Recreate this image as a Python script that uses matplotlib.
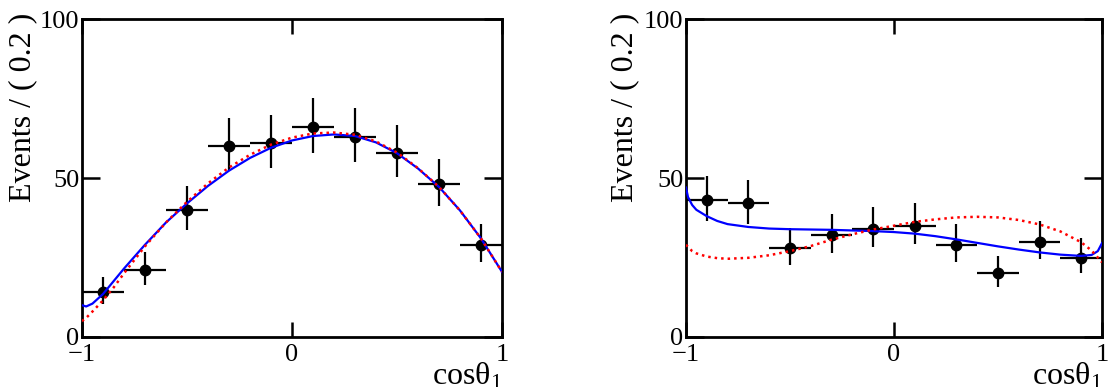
import numpy as np
import matplotlib as mpl

mpl.use("Agg")
import matplotlib.pyplot as plt

###############################################################################

# bin centres (bin width 0.2)
bin_x = [-0.9, -0.7, -0.5, -0.3, -0.1, 0.1, 0.3, 0.5, 0.7, 0.9]
bin_halfwidth = 0.1

# left panel data (events per bin, asymmetric errors)
left_counts = [14, 21, 40, 60, 61, 66, 63, 58, 48, 29]
left_err_lo = [3.7, 4.5, 6.3, 7.7, 7.8, 8.1, 7.9, 7.6, 6.9, 5.4]
left_err_hi = [4.8, 5.6, 7.4, 8.8, 8.9, 9.2, 9.0, 8.7, 8.0, 6.4]

# right panel data
right_counts = [43, 42, 28, 32, 34, 35, 29, 20, 30, 25]
right_err_lo = [6.5, 6.5, 5.3, 5.6, 5.8, 5.9, 5.4, 4.4, 5.5, 5.0]
right_err_hi = [7.6, 7.5, 6.3, 6.7, 6.9, 7.0, 6.4, 5.5, 6.5, 6.0]

# fit curves
left_curve_x = [-1.0, -0.98, -0.95, -0.9, -0.85, -0.8, -0.7, -0.6, -0.5, -0.4,
                -0.3, -0.2, -0.1, 0.0, 0.1, 0.2, 0.3, 0.4, 0.5, 0.6, 0.7, 0.8,
                0.9, 1.0]
left_blue = [10.0, 9.6, 10.5, 13.5, 17.5, 21.5, 29.0, 36.0, 42.0, 47.5, 52.3,
             56.3, 59.5, 61.8, 63.2, 63.7, 63.2, 61.2, 57.8, 53.0, 47.2, 39.8,
             31.0, 20.5]
left_red = [5.0, 6.0, 8.0, 11.5, 15.5, 20.0, 28.5, 36.0, 42.5, 48.3, 53.3,
            57.3, 60.5, 62.7, 64.0, 64.3, 63.6, 61.5, 58.0, 53.1, 47.2, 39.8,
            31.0, 20.5]

right_blue_x = [-1.0, -0.99, -0.97, -0.95, -0.9, -0.85, -0.8, -0.7, -0.6, -0.5,
                -0.4, -0.3, -0.2, -0.1, 0.0, 0.1, 0.2, 0.3, 0.4, 0.5, 0.6, 0.7,
                0.8, 0.9, 0.95, 0.98, 1.0]
right_blue = [47.0, 44.0, 41.5, 40.0, 38.0, 36.5, 35.5, 34.6, 34.1, 33.9, 33.8,
              33.7, 33.5, 33.3, 33.0, 32.5, 31.7, 30.7, 29.6, 28.5, 27.5, 26.6,
              25.9, 25.5, 25.8, 27.0, 29.5]
right_red_x = [-1.0, -0.97, -0.95, -0.9, -0.85, -0.8, -0.7, -0.6, -0.5, -0.4,
               -0.3, -0.2, -0.1, 0.0, 0.1, 0.2, 0.3, 0.4, 0.5, 0.6, 0.7, 0.8,
               0.9, 0.95, 1.0]
right_red = [29.0, 27.0, 26.3, 25.3, 24.8, 24.6, 24.9, 25.7, 27.0, 28.6, 30.6,
             32.3, 33.8, 35.0, 36.2, 37.0, 37.6, 37.8, 37.6, 36.8, 35.4, 33.2,
             29.8, 27.2, 23.5]

###############################################################################

serif = "Liberation Serif"
plt.rcParams.update({
    "font.family": "serif",
    "font.serif": [serif, "DejaVu Serif"],
    "mathtext.fontset": "custom",
    "mathtext.rm": serif,
    "mathtext.it": serif + ":italic",
})

fig = plt.figure(figsize=(11.15, 3.87), dpi=100)

panels = [
    ([0.0735, 0.1292, 0.3767, 0.8217], left_counts, left_err_lo, left_err_hi,
     left_curve_x, left_blue, left_curve_x, left_red, -0.140),
    ([0.6152, 0.1292, 0.3731, 0.8217], right_counts, right_err_lo, right_err_hi,
     right_blue_x, right_blue, right_red_x, right_red, -0.147),
]

for rect, counts, elo, ehi, bx, by, rx, ry, ylab_x in panels:
    ax = fig.add_axes(rect)

    ax.errorbar(
        bin_x, counts,
        xerr=bin_halfwidth,
        yerr=[elo, ehi],
        fmt="o", color="black", markersize=7.5,
        elinewidth=1.6, capsize=0, zorder=3,
    )
    ax.plot(bx, by, color="blue", lw=1.6, zorder=4)
    ax.plot(rx, ry, color="red", lw=1.8, ls=(0, (1, 1.6)), zorder=5)

    ax.set_xlim(-1, 1)
    ax.set_ylim(0, 100)
    ax.set_xticks([-1, 0, 1])
    ax.set_yticks([0, 50, 100])
    ax.set_xticklabels(["\u22121", "0", "1"], family=serif)
    ax.set_yticklabels(["0", "50", "100"], family=serif)
    ax.tick_params(direction="in", top=True, right=True, width=1.8,
                   labelsize=19)
    ax.tick_params(axis="y", length=13, pad=2)
    ax.tick_params(axis="x", length=11, pad=5)
    for s in ax.spines.values():
        s.set_linewidth(2)

    ax.text(ylab_x, 1.02, "Events / ( 0.2 )", rotation=90, fontsize=23,
            family=serif, ha="center", va="top", transform=ax.transAxes)
    ax.text(1.0, -0.075, "cos\u03b8$_{1}$", fontsize=23, family=serif,
            ha="right", va="top", transform=ax.transAxes)

plt.savefig("out.png", dpi=100)
plt.close()
